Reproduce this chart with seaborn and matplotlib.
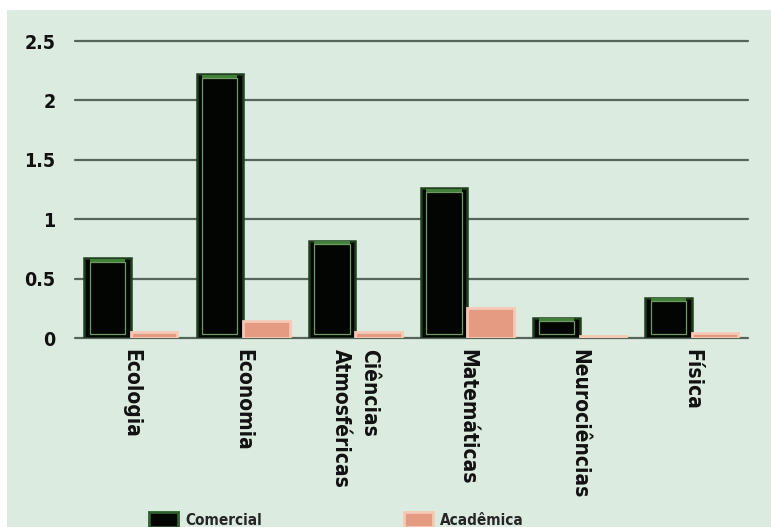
import matplotlib
matplotlib.use("Agg")
import matplotlib.pyplot as plt
from matplotlib.patches import Rectangle, Patch
import seaborn as sns
import pandas as pd

categories = ["Ecologia", "Economia", "Ciências\nAtmosféricas", "Matemáticas", "Neurociências", "Física"]
comercial = [0.67, 2.22, 0.82, 1.26, 0.17, 0.34]
academica = [0.05, 0.14, 0.05, 0.25, 0.02, 0.04]
series = ["Comercial", "Acadêmica"]
yticks = [0, 0.5, 1, 1.5, 2, 2.5]
ytick_labels = ["0", "0.5", "1", "1.5", "2", "2.5"]

df = pd.DataFrame({
    "categoria": categories * 2,
    "valor": comercial + academica,
    "tipo": [series[0]] * len(categories) + [series[1]] * len(categories),
})

BG = "#dcebdf"
FONT = ["DejaVu Sans"]

sns.set_theme(style="white")
plt.rcParams["font.family"] = FONT
plt.rcParams["font.stretch"] = "condensed"

fig = plt.figure(figsize=(7.71, 5.27), dpi=100, facecolor="white")
fig.patches.append(Rectangle((7 / 771, 0), 1, (527 - 10) / 527,
                             transform=fig.transFigure, facecolor=BG,
                             edgecolor="none", zorder=-10))

ax = fig.add_axes([0.097, 0.3586, 0.873, 0.5636])
ax.set_facecolor("none")

palette = {"Comercial": "#000000", "Acadêmica": "#e9a48c"}
sns.barplot(data=df, x="categoria", y="valor", hue="tipo", hue_order=series,
            palette=palette, width=0.83, dodge=True, saturation=1,
            legend=False, ax=ax, zorder=3)

n = len(categories)
for i, bar in enumerate(ax.patches[:2 * n]):
    x, y = bar.get_x(), bar.get_y()
    w, h = bar.get_width(), bar.get_height()
    if i < n:
        bar.set_facecolor("#020502")
        bar.set_edgecolor("#1f3f1d")
        bar.set_linewidth(1.8)
        # green cap on top of each bar
        ax.add_patch(Rectangle((x + w * 0.12, y + h - 0.035), w * 0.76, 0.03,
                               facecolor="#3f7f38", edgecolor="none", zorder=4))
        # inner bevel line
        ax.add_patch(Rectangle((x + w * 0.12, y + 0.03), w * 0.76, max(h - 0.06, 0.005),
                               facecolor="none", edgecolor="#6f9a62",
                               linewidth=0.9, zorder=4))
    else:
        bar.set_facecolor("#e59a82")
        bar.set_edgecolor("#f6c9b4")
        bar.set_linewidth(2.0)

ax.set_ylim(0, 2.5)
ax.set_yticks(yticks)
ax.set_yticklabels(ytick_labels, fontsize=14, fontweight="bold", color="#111111")
for yv in yticks:
    ax.axhline(yv, color="#56645a", linewidth=1.6, zorder=1, clip_on=False)

ax.set_xticks(range(n))
ax.set_xticklabels(categories, rotation=-90, fontsize=15, fontweight="bold",
                   color="#111111", va="top", ha="center", linespacing=1.5,
                   multialignment="left")
ax.tick_params(axis="both", length=0)
ax.tick_params(axis="x", pad=8)
ax.tick_params(axis="y", pad=14)
ax.set_xlabel("")
ax.set_ylabel("")
ax.set_xlim(-0.5, n - 0.5)
for s in ax.spines.values():
    s.set_visible(False)

handles = [Patch(facecolor="#020502", edgecolor="#2f5f2c", linewidth=2),
           Patch(facecolor="#e59a82", edgecolor="#f6c9b4", linewidth=2)]
for h, label, x0 in zip(handles, series, [135 / 771, 390 / 771]):
    fig.legend([h], [label], loc="center left", bbox_to_anchor=(x0, 7 / 527),
               frameon=False, handlelength=1.9, handleheight=1.1, handletextpad=0.5,
               prop={"family": FONT, "weight": "bold", "size": 11, "stretch": "condensed"})

fig.savefig("out.png", dpi=100, facecolor="white")
